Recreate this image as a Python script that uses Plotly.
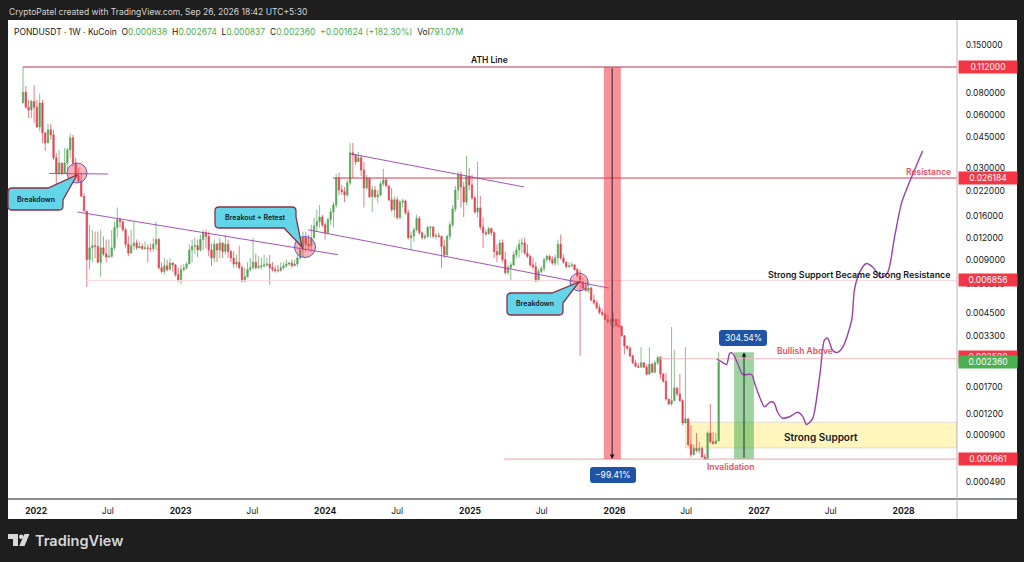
import math

import pandas as pd
import plotly.graph_objects as go

# weekly candles
dates = pd.date_range("2021-11-29", periods=252, freq="7D")

closes = [
    .0805, .0662, .0638, .0714, .0662, .0511, .0700, .0473, .0415, .0492, .0461, .0341,
    .0280, .0319, .0280, .0319, .0379, .0443, .0319, .0270, .0252, .0206, .0170, .0090,
    .0105, .0108, .0107, .0087, .0105, .0097, .0093, .0094, .0105, .0137, .0152, .0148,
    .0133, .0110, .0098, .0108, .0112, .0105, .0107, .0104, .0105, .0104, .0104, .0110,
    .0117, .0081, .0077, .0083, .0079, .0086, .0084, .0074, .0069, .0079, .0081, .0085,
    .0102, .0107, .0108, .0102, .0117, .0128, .0122, .0102, .0092, .0110, .0102, .0112,
    .0100, .0110, .0100, .0092, .0085, .0087, .0081, .0068, .0072, .0079, .0081, .0087,
    .0081, .0082, .0083, .0084, .0085, .0081, .0079, .0078, .0078, .0081, .0083, .0085,
    .0086, .0083, .0085, .0092, .0102, .0120, .0110, .0108, .0120, .0140, .0148, .0157,
    .0142, .0128, .0152, .0168, .0184, .0262, .0224, .0219, .0210, .0246, .0364, .0355,
    .0324, .0341, .0291, .0230, .0262, .0205, .0224, .0205, .0210, .0243, .0255, .0236,
    .0197, .0173, .0197, .0156, .0191, .0194, .0166, .0120, .0123, .0133, .0154, .0128,
    .0120, .0122, .0137, .0138, .0122, .0123, .0122, .0107, .0096, .0122, .0142, .0175,
    .0224, .0273, .0233, .0191, .0266, .0239, .0202, .0168, .0177, .0138, .0128, .0126,
    .0135, .0128, .0100, .0096, .0112, .0090, .0076, .0081, .0084, .0096, .0102, .0110,
    .0112, .0098, .0094, .0084, .0082, .0068, .0077, .0080, .0090, .0094, .0090, .0086,
    .0092, .0110, .0092, .0087, .0082, .0083, .0084, .0079, .0073, .0067, .0062, .0060,
    .0062, .0053, .0051, .0048, .0045, .0044, .0041, .0040, .00402, .00412, .00380, .00376,
    .00332, .00290, .00282, .00255, .00233, .00223, .00220, .00233, .00220, .00201, .00229, .00206,
    .00233, .00250, .00201, .00183, .00145, .00136, .00142, .00168, .00155, .00142, .00106, .00112,
    .00080, .00070, .00076, .00074, .00076, .00068, .00066, .00093, .00083, .00081, .000838, .00236,
]
highs = [
    .112, .0873, .0727, .0727, .0884, .0727, .0790, .0727, .0473, .0533, .0533, .0492,
    .0364, .0379, .0319, .0388, .0388, .0470, .0461, .0341, .0299, .0280, .0215, .0170,
    .0142, .0133, .0130, .0130, .0133, .0122, .0117, .0117, .0132, .0148, .0178, .0156,
    .0148, .0137, .0123, .0133, .0148, .0117, .0114, .0111, .0114, .0110, .0111, .0120,
    .0148, .0120, .0087, .0092, .0090, .0092, .0087, .0085, .0081, .0084, .0085, .0087,
    .0110, .0117, .0120, .0117, .0125, .0133, .0133, .0130, .0111, .0117, .0112, .0120,
    .0111, .0125, .0117, .0102, .0100, .0096, .0108, .0084, .0081, .0087, .0092, .0120,
    .0097, .0094, .0092, .0096, .0092, .0096, .0087, .0083, .0084, .0087, .0087, .0090,
    .0087, .0090, .0090, .0097, .0117, .0130, .0130, .0125, .0142, .0156, .0173, .0184,
    .0162, .0146, .0156, .0177, .0191, .0276, .0280, .0239, .0233, .0255, .0415, .0415,
    .0355, .0369, .0355, .0324, .0273, .0262, .0236, .0236, .0224, .0252, .0295, .0262,
    .0236, .0230, .0205, .0205, .0197, .0199, .0197, .0173, .0130, .0137, .0162, .0159,
    .0130, .0126, .0140, .0140, .0137, .0128, .0128, .0123, .0117, .0125, .0148, .0184,
    .0236, .0285, .0285, .0249, .0350, .0299, .0273, .0207, .0324, .0207, .0156, .0133,
    .0138, .0137, .0130, .0110, .0117, .0117, .0100, .0084, .0087, .0100, .0107, .0117,
    .0120, .0120, .0110, .0096, .0092, .0087, .0080, .0083, .0092, .0096, .0096, .0094,
    .0096, .0117, .0125, .0096, .0088, .0087, .0087, .0085, .0081, .0079, .0071, .0067,
    .0067, .0063, .0057, .0053, .0050, .0047, .0045, .0044, .0042, .00452, .00414, .00414,
    .00380, .00335, .00290, .00290, .00260, .00243, .00233, .00286, .00236, .00229, .00286, .00233,
    .00239, .00255, .00255, .00204, .00204, .00145, .00372, .00276, .00168, .00201, .00145, .00286,
    .00112, .00103, .00080, .00093, .00083, .00078, .00071, .00095, .00136, .00094, .00093, .002674,
]
lows = [
    .0700, .0650, .0575, .0575, .0539, .0505, .0483, .0415, .0372, .0432, .0432, .0332,
    .0230, .0273, .0273, .0276, .0285, .0341, .0305, .0262, .0246, .0206, .0170, .0063,
    .0079, .0087, .0092, .0086, .0072, .0094, .0087, .0093, .0092, .0102, .0120, .0137,
    .0130, .0105, .0094, .0098, .0102, .0102, .0104, .0102, .0102, .0087, .0100, .0100,
    .0102, .0079, .0075, .0074, .0077, .0079, .0077, .0072, .0067, .0065, .0077, .0079,
    .0087, .0087, .0097, .0093, .0100, .0102, .0104, .0094, .0083, .0087, .0087, .0092,
    .0092, .0096, .0092, .0087, .0081, .0081, .0079, .0067, .0067, .0071, .0077, .0079,
    .0079, .0080, .0079, .0081, .0082, .0065, .0077, .0076, .0076, .0077, .0079, .0081,
    .0083, .0081, .0083, .0082, .0090, .0093, .0100, .0102, .0100, .0117, .0130, .0137,
    .0138, .0117, .0125, .0142, .0137, .0177, .0210, .0210, .0191, .0205, .0239, .0262,
    .0311, .0326, .0268, .0178, .0224, .0202, .0168, .0202, .0189, .0207, .0236, .0233,
    .0194, .0168, .0157, .0152, .0152, .0178, .0162, .0117, .0101, .0114, .0130, .0125,
    .0117, .0117, .0120, .0120, .0119, .0117, .0120, .0081, .0092, .0093, .0117, .0138,
    .0168, .0197, .0178, .0157, .0184, .0224, .0197, .0164, .0156, .0133, .0105, .0123,
    .0125, .0123, .0092, .0087, .0096, .0087, .0074, .0074, .0068, .0083, .0092, .0092,
    .0098, .0096, .0092, .0082, .0079, .0067, .0069, .0075, .0077, .0087, .0087, .0084,
    .0083, .0084, .0090, .0085, .0080, .0081, .0081, .0078, .0071, .00255, .0061, .0059,
    .0058, .0052, .0050, .0047, .0044, .0043, .0041, .0039, .0038, .0037, .00375, .00372,
    .00328, .00260, .00276, .00250, .00229, .00220, .00218, .00220, .00218, .00198, .00204, .00204,
    .00209, .00226, .00189, .00180, .00142, .00134, .00133, .00142, .00151, .00140, .00103, .00106,
    .00078, .00068, .00070, .00072, .00071, .00067, .000661, .000661, .00081, .00080, .00080, .000837,
]
first_open = .0700

# projected path, purple line
path_dates = [
    "2026-09-16", "2026-09-29", "2026-10-11", "2026-10-19", "2026-10-26", "2026-11-08", "2026-11-21",
    "2026-12-13", "2026-12-21", "2027-01-02", "2027-01-15", "2027-01-28", "2027-02-07", "2027-02-17",
    "2027-03-01", "2027-03-19", "2027-04-08", "2027-04-21", "2027-05-01", "2027-05-16", "2027-05-29",
    "2027-06-05", "2027-06-15", "2027-06-23", "2027-07-06", "2027-07-18", "2027-07-31", "2027-08-23",
    "2027-08-30", "2027-09-12", "2027-09-29", "2027-10-15", "2027-11-06", "2027-11-22", "2027-12-09",
    "2027-12-27", "2028-01-11", "2028-02-18",
]
path_prices = [
    .00245, .00236, .00228, .00264, .00264, .00231, .00200,
    .00200, .00178, .00150, .00131, .00139, .00139, .00122,
    .00113, .00115, .00122, .00116, .00104, .00112, .00161,
    .00211, .00313, .00322, .00274, .00267, .00285, .00408,
    .00607, .00761, .00855, .00817, .00710, .00762, .0120,
    .0189, .0233, .0373,
]

# levels and drawn trend lines
ath = 0.112
resistance = 0.026184
flip_level = 0.006856
bullish_level = 0.00246
current = 0.002360
invalidation = 0.000661
support_low, support_high = 0.000765, 0.00107

trend_lines = [
    (["2022-02-03", "2022-07-02"], [.0278, .0276]),
    (["2022-04-15", "2024-02-02"], [.0168, .0096]),
    (["2024-03-04", "2025-05-17"], [.0360, .0233]),
    (["2023-11-19", "2025-12-18"], [.0133, .0062]),
]

tick_vals = [.15, .08, .06, .045, .03, .022, .016, .012, .009, .0065, .0045, .0033, .0025, .0017, .0012, .0009, .00049]
tick_text = ["%.6f" % v for v in tick_vals]
year_ticks = ["2022-01-01", "2022-07-01", "2023-01-01", "2023-07-01", "2024-01-01", "2024-07-01", "2025-01-01",
              "2025-07-01", "2026-01-01", "2026-07-01", "2027-01-01", "2027-07-01", "2028-01-01"]
year_text = ["<b>2022</b>", "Jul", "<b>2023</b>", "Jul", "<b>2024</b>", "Jul", "<b>2025</b>",
             "Jul", "<b>2026</b>", "Jul", "<b>2027</b>", "Jul", "<b>2028</b>"]

W, H = 1024, 562
LEFT, RIGHT, TOP, BOTTOM = 8, 957, 20, 499
FONT = "Inter"
GREEN = "#54a558"
RED = "#e2424f"
TAG_RED = "#f23645"
BLUE = "#1e53a5"
PURPLE = "#9c3fb0"
CYAN = "#62d5e8"
EDGE = "#8c2f45"


def fx(x):
    return (x - LEFT) / (RIGHT - LEFT)


def fy(y):
    return (BOTTOM - y) / (BOTTOM - TOP)


def pt(x, y):
    return f"{fx(x)},{fy(y)}"


def box_path(x0, y0, x1, y1, tail=None, corner="", r=4):
    # rounded box; a tail replaces the top right or bottom right corner
    p = f"M{pt(x0 + r, y0)} "
    if corner == "tr":
        p += f"L{pt(*tail[0])} L{pt(*tail[1])} L{pt(*tail[2])} "
    else:
        p += f"L{pt(x1 - r, y0)} Q{pt(x1, y0)} {pt(x1, y0 + r)} "
    if corner == "br":
        p += f"L{pt(*tail[0])} L{pt(*tail[1])} L{pt(*tail[2])} "
    else:
        p += f"L{pt(x1, y1 - r)} Q{pt(x1, y1)} {pt(x1 - r, y1)} "
    p += f"L{pt(x0 + r, y1)} Q{pt(x0, y1)} {pt(x0, y1 - r)} L{pt(x0, y0 + r)} Q{pt(x0, y0)} {pt(x0 + r, y0)} Z"
    return p


def paper_shape(**kw):
    return dict(xref="paper", yref="paper", **kw)


def circle(cx, cy, r):
    return paper_shape(type="circle", x0=fx(cx - r), x1=fx(cx + r), y0=fy(cy + r), y1=fy(cy - r),
                       fillcolor="rgba(242,54,69,0.38)", line=dict(color="#5a5fd0", width=1))


def callout(x0, y0, x1, y1, tail, corner):
    return paper_shape(type="path", path=box_path(x0, y0, x1, y1, tail, corner), fillcolor=CYAN,
                       line=dict(color=EDGE, width=1.3))


def pill(x0, y0, x1, y1):
    return paper_shape(type="path", path=box_path(x0, y0, x1, y1, r=3), fillcolor=BLUE, line_width=0)


def text_at(x, y, text, size=8.5, color="#131722", anchor="center", weight=None):
    font = dict(family=FONT, size=size, color=color)
    if weight:
        font["weight"] = weight
    return dict(xref="paper", yref="paper", x=fx(x), y=fy(y), text=text, showarrow=False, xanchor=anchor,
                yanchor="middle", font=font, borderpad=0)


def price_tag(value, color, label=None):
    return dict(xref="paper", yref="y", x=fx(987.5), y=math.log10(value), text=label or "%.6f" % value,
                showarrow=False, xanchor="center", yanchor="middle", width=58, height=12, bgcolor=color,
                font=dict(family=FONT, size=8.5, color="white"), borderpad=0)


opens = [first_open] + closes[:-1]

fig = go.Figure()
fig.add_trace(go.Candlestick(
    x=dates, open=opens, high=highs, low=lows, close=closes, whiskerwidth=0,
    increasing=dict(line=dict(color=GREEN, width=0.7), fillcolor=GREEN),
    decreasing=dict(line=dict(color=RED, width=0.7), fillcolor=RED),
))

x_end = "2028-05-15"
level_lines = [
    (["2021-11-29", x_end], ath, "#b8344c", 1),
    (["2024-01-21", x_end], resistance, "#d23a4e", 1),
    (["2022-05-07", x_end], flip_level, "#fbd4d8", 1),
    (["2026-04-26", x_end], bullish_level, "#f3bcc2", 1),
    (["2025-03-28", x_end], invalidation, "#e8a0a8", 1),
]
for xs, level, colour, width in level_lines:
    fig.add_trace(go.Scatter(x=xs, y=[level, level], mode="lines", line=dict(color=colour, width=width)))

for xs, ys in trend_lines:
    fig.add_trace(go.Scatter(x=xs, y=ys, mode="lines", line=dict(color=PURPLE, width=0.9)))

fig.add_trace(go.Scatter(x=path_dates, y=path_prices, mode="lines",
                         line=dict(color=PURPLE, width=1.4, shape="spline", smoothing=0.8)))

shapes = [
    # white chart card behind the axes
    paper_shape(type="rect", x0=0, x1=fx(1017), y0=fy(519), y1=1, fillcolor="white", line_width=0, layer="below"),
    dict(type="rect", xref="x", yref="y", x0="2026-06-30", x1=x_end, y0=support_low, y1=support_high,
         fillcolor="#fff5bd", line=dict(color="#d8d4d0", width=0.8), layer="below"),
    dict(type="rect", xref="x", yref="y", x0="2025-12-05", x1="2026-01-17", y0=invalidation, y1=ath,
         fillcolor="rgba(242,54,69,0.55)", line_width=0),
    dict(type="rect", xref="x", yref="y", x0="2026-10-30", x1="2026-12-19", y0=invalidation, y1=0.002674,
         fillcolor="rgba(76,175,80,0.55)", line_width=0, layer="below"),
    paper_shape(type="line", x0=0, x1=fx(1017), y0=0, y1=0, line=dict(color="#131722", width=1)),
    paper_shape(type="line", x0=1, x1=1, y0=fy(519), y1=1, line=dict(color="#b2b5be", width=1)),
    circle(77, 173, 10),
    circle(305, 247, 10.5),
    circle(579, 282, 9),
    callout(8, 188, 63, 210, ((48, 188), (77, 175), (63, 200)), "tr"),
    callout(215, 207, 296, 228, ((296, 217), (302, 247), (284, 228)), "br"),
    callout(507, 293, 563, 315, ((552, 293), (579, 282), (563, 303)), "tr"),
    pill(590, 467, 636, 483),
    pill(719, 330, 767, 346),
    # TradingView mark
    paper_shape(type="path", path=f"M{pt(8, 534)} L{pt(18, 534)} L{pt(18, 546)} L{pt(13, 546)} "
                                  f"L{pt(13, 539)} L{pt(8, 539)} Z", fillcolor="#d8d8d8", line_width=0),
    paper_shape(type="circle", x0=fx(19), x1=fx(23.6), y0=fy(539), y1=fy(534.4), fillcolor="#d8d8d8", line_width=0),
    paper_shape(type="path", path=f"M{pt(24.5, 534)} L{pt(29.5, 534)} L{pt(24.5, 546)} L{pt(19.2, 546)} Z",
                fillcolor="#d8d8d8", line_width=0),
]

header = (
    'PONDUSDT · 1W · KuCoin  O<span style="color:#4caf50">0.000838</span>  '
    'H<span style="color:#4caf50">0.002674</span>  L<span style="color:#4caf50">0.000837</span>  '
    'C<span style="color:#4caf50">0.002360</span>  <span style="color:#4caf50">+0.001624 (+182.30%)</span>  '
    'Vol<span style="color:#4caf50">791.07M</span>'
)
annotations = [
    text_at(7.5, 12, "CryptoPatel created with TradingView.com, Sep 26, 2026 18:42 UTC+5:30", 8.5, "#d6d6d6", "left"),
    text_at(13, 32, header, 8.5, "#131722", "left"),
    text_at(489, 60, "ATH Line", 8.5, weight=600),
    text_at(952, 172, "Resistance", 8.5, "#e8505f", "right", 600),
    text_at(952, 274, "Strong Support Became Strong Resistance", 8.9, "#131722", "right", 600),
    text_at(834, 351, "Bullish Above", 8.5, "#e8505f", "right", 600),
    text_at(730, 467, "Invalidation", 8.5, "#e8505f", weight=600),
    text_at(821, 437, "Strong Support", 10, weight=600),
    text_at(36, 199, "Breakdown", 7, "#131722", weight=600),
    text_at(255.5, 217.5, "Breakout + Retest", 7, "#131722", weight=600),
    text_at(535, 304, "Breakdown", 7, "#131722", weight=600),
    text_at(34, 540.5, "TradingView", 14.5, "#d8d8d8", "left", 600),
    text_at(613, 475, "−99.41%", 8.5, "white"),
    text_at(743, 338, "304.54%", 8.5, "white"),
    dict(x="2025-12-26", y=math.log10(invalidation), ax="2025-12-26", ay=math.log10(ath), xref="x", yref="y",
         axref="x", ayref="y", text="", showarrow=True, arrowhead=2, arrowsize=1, arrowwidth=0.9, arrowcolor="#131722"),
    dict(x="2026-11-24", y=math.log10(0.002674), ax="2026-11-24", ay=math.log10(invalidation), xref="x", yref="y",
         axref="x", ayref="y", text="", showarrow=True, arrowhead=2, arrowsize=1, arrowwidth=0.9, arrowcolor="#131722"),
    price_tag(ath, TAG_RED),
    price_tag(resistance, TAG_RED),
    price_tag(flip_level, TAG_RED),
    price_tag(0.0025, TAG_RED, "0.002500"),
    price_tag(current, "#4caf50"),
    price_tag(invalidation, TAG_RED),
]

fig.update_layout(
    width=W, height=H, showlegend=False, paper_bgcolor="#1e1e1e", plot_bgcolor="white",
    margin=dict(l=LEFT, r=W - RIGHT, t=TOP, b=H - BOTTOM),
    font=dict(family=FONT, size=8.5, color="#131722"),
    shapes=shapes, annotations=annotations, hovermode=False,
    xaxis=dict(type="date", range=["2021-10-22", x_end], rangeslider=dict(visible=False), showgrid=False,
               zeroline=False, tickmode="array", tickvals=year_ticks, ticktext=year_text,
               ticks="outside", ticklen=4, tickcolor="rgba(0,0,0,0)", tickangle=0,
               tickfont=dict(family=FONT, size=8.5, color="#131722")),
    yaxis=dict(type="log", side="right", range=[math.log10(0.000392), math.log10(0.2072)], showgrid=False,
               zeroline=False, tickmode="array", tickvals=tick_vals, ticktext=tick_text,
               ticks="outside", ticklen=6, tickcolor="rgba(0,0,0,0)",
               tickfont=dict(family=FONT, size=8.5, color="#131722")),
)

fig.write_html("out.html", config=dict(displayModeBar=False),
               post_script="document.body.style.margin='0';document.body.style.overflow='hidden';")
